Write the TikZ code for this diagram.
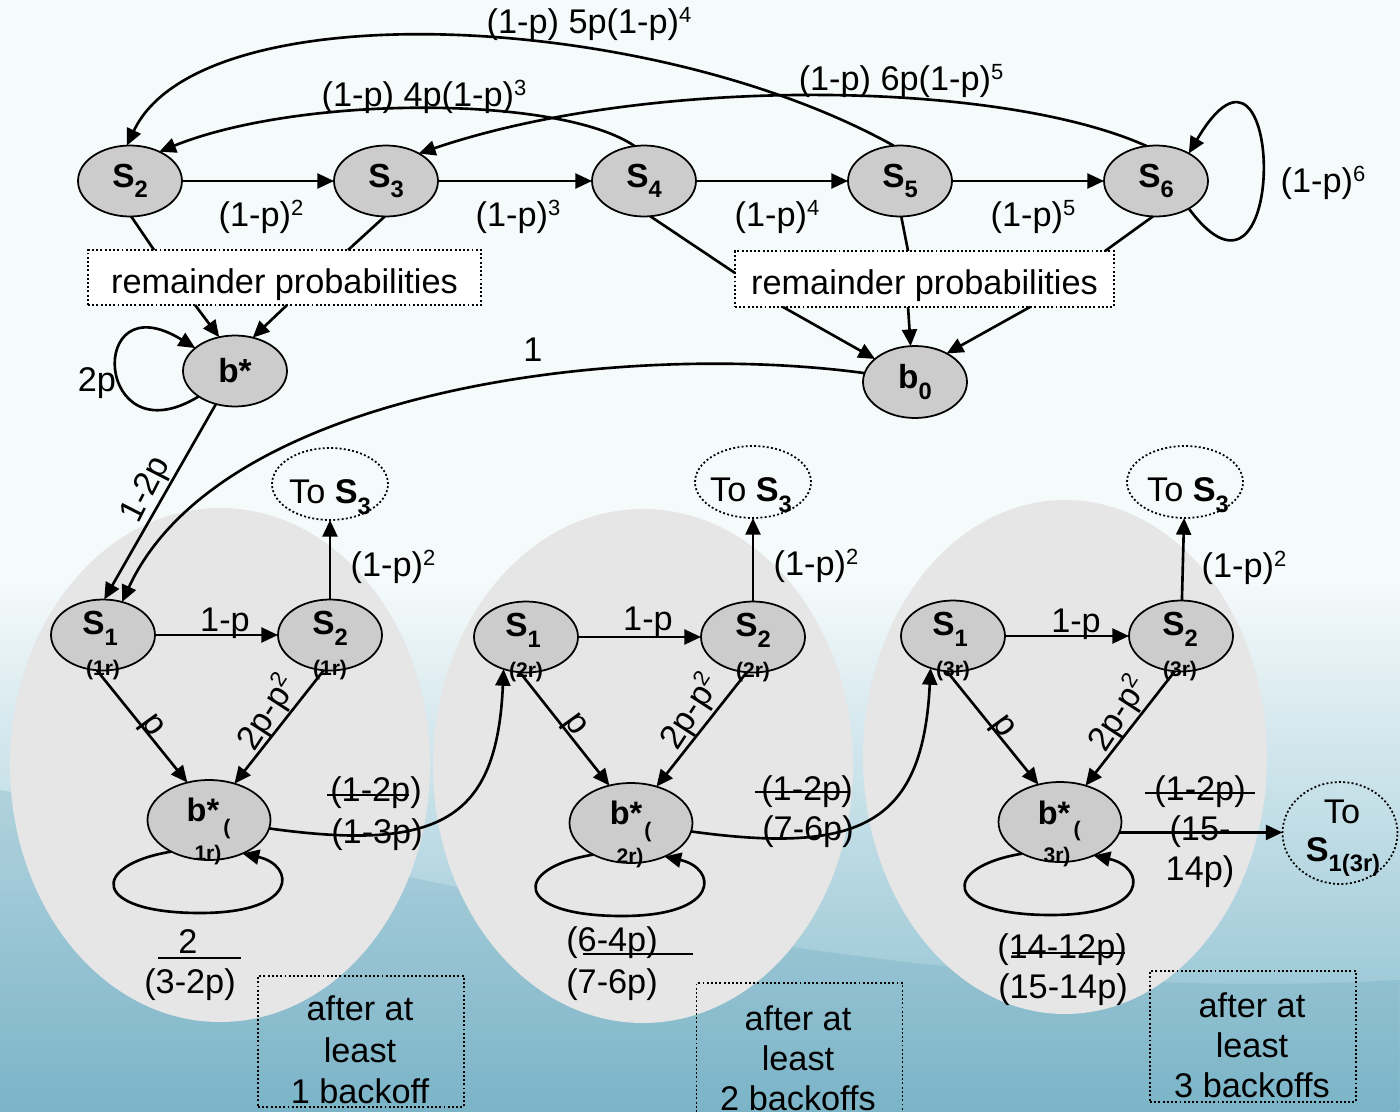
\documentclass[tikz,border=0pt]{standalone}
\usepackage{fontspec}
\setmainfont{Liberation Sans}
\usetikzlibrary{shapes.geometric,arrows.meta,calc}
\definecolor{ngray}{HTML}{CCCCCC}
\definecolor{egray}{HTML}{E6E6E6}
\definecolor{bgtop}{HTML}{F5FAFB}
\definecolor{bgblue}{HTML}{84BBCD}
\definecolor{bgdeep}{HTML}{5E9EB5}
\newcommand{\Sn}[1]{\textbf{S}\raisebox{-0.32em}{\fontsize{13.5}{14}\selectfont\bfseries #1}}
\newcommand{\spx}[1]{\smash{\raisebox{0.34em}{\fontsize{12.5}{13}\selectfont #1}}}
\begin{document}
\begin{tikzpicture}[x=0.02cm,y=-0.02cm,
  every node/.style={inner sep=0pt,outer sep=0pt},
  lab/.style={font=\fontsize{19.5}{23.4}\selectfont},
  blab/.style={font=\fontsize{18.5}{22}\selectfont\bfseries},
  sml/.style={font=\fontsize{12}{14}\selectfont\bfseries},
  st/.style={ellipse,draw,line width=1pt,fill=ngray,minimum width=2.08cm,minimum height=1.42cm,font=\fontsize{19}{22}\selectfont},
  bst/.style={st,minimum width=2.46cm,minimum height=1.6cm},
  tos/.style={ellipse,draw,line width=1pt,dash pattern=on 1.1pt off 1.3pt,minimum width=2.32cm,minimum height=1.44cm},
  rem/.style={rectangle,draw,line width=1pt,dash pattern=on 1.1pt off 1.3pt,fill=white,font=\fontsize{19.5}{23.4}\selectfont,text height=22pt,text depth=4pt},
  dbox/.style={rectangle,draw,line width=1pt,dash pattern=on 1.1pt off 1.3pt,minimum width=4.12cm},
  con/.style={line width=1.5pt},
  arr/.style={line width=1.5pt,-{Triangle[length=9.5pt,width=8.5pt]}},
  bar/.style={line width=1.1pt}]
\useasboundingbox (0,0) rectangle (1400,1112);
% background
\begin{scope}[x=1cm,y=1cm]
\fill[bgtop] (0,0) rectangle (28,-22.24);
\shade[top color=bgtop,bottom color=bgblue] (0,-11.6) rectangle (28,-22.24);
\fill[bgdeep,opacity=0.22] (0,-15.8) .. controls (8,-17.4) and (18,-20.2) .. (28,-19.6) -- (28,-22.24) -- (0,-22.24) -- cycle;
\end{scope}
\fill[egray] (220,765) ellipse [x radius=210,y radius=257];
\fill[egray] (643,766) ellipse [x radius=210,y radius=257];
\fill[egray] (1065,757) ellipse [x radius=202,y radius=257];
% top row
\node[st] (S2) at (130,181) {\Sn{2}};
\node[st] (S3) at (386,181) {\Sn{3}};
\node[st] (S4) at (644,181) {\Sn{4}};
\node[st] (S5) at (900,181) {\Sn{5}};
\node[st] (S6) at (1156,181) {\Sn{6}};
\node[rem,minimum width=7.86cm,minimum height=1.1cm] (rem1) at (284.5,277.5) {remainder probabilities};
\node[rem,minimum width=7.58cm,minimum height=1.12cm] (rem2) at (924.5,279) {remainder probabilities};
\node[st] (bs) at (235,371) {\textbf{b*}};
\node[st,minimum height=1.44cm] (b0) at (915,382) {\textbf{b}\raisebox{-0.32em}{\fontsize{13.5}{14}\selectfont\bfseries 0}};
% top edges
\draw[arr] (S2) -- (S3);
\draw[arr] (S3) -- (S4);
\draw[arr] (S4) -- (S5);
\draw[arr] (S5) -- (S6);
\draw[arr] (S4.105) .. controls (560,95) and (300,95) .. (S2.45);
\draw[arr] (S5.100) .. controls (650,10) and (200,-10) .. (S2.95);
\draw[arr] (S6.105) .. controls (1000,80) and (650,75) .. (S3.40);
\draw[arr] (S6.-40) .. controls (1290,345) and (1285,-10) .. (S6.40);
\draw[con] (S2.-88) -- ($(rem1.north west)+(66,0)$);
\draw[con] (S3.-92) -- ($(rem1.north west)+(260,0)$);
\draw[arr] ($(rem1.south west)+(107,0)$) -- (bs.115);
\draw[arr] ($(rem1.south west)+(199,0)$) -- (bs.62);
\draw[arr] (bs.215) .. controls (95,460) and (85,280) .. (bs.150);
\draw[con] (S4.-80) -- ($(rem2.north west)+(0,22)$);
\draw[con] (S5.-88) -- ($(rem2.north west)+(173,0)$);
\draw[con] (S6.-95) -- ($(rem2.north west)+(370,0)$);
\draw[arr] ($(rem2.south west)+(48,0)$) -- (b0.150);
\draw[arr] ($(rem2.south west)+(173,0)$) -- (b0.97);
\draw[arr] ($(rem2.south west)+(295,0)$) -- (b0.42);
% top labels
\node[lab] (l12) at (261,218) {(1-p)\spx{2}};
\node[lab] (l13) at (518,218) {(1-p)\spx{3}};
\node[lab] (l14) at (777,218) {(1-p)\spx{4}};
\node[lab] (l15) at (1033,218) {(1-p)\spx{5}};
\node[lab] (l16) at (1323,184) {(1-p)\spx{6}};
\node[lab] (lr4) at (424,98) {(1-p) 4p(1-p)\spx{3}};
\node[lab] (lr5) at (589,25) {(1-p) 5p(1-p)\spx{4}};
\node[lab] (lr6) at (901,82) {(1-p) 6p(1-p)\spx{5}};
\node[lab] (l2p) at (97,383) {2p};
\node[lab] (lone) at (533,350) {1};
% lower groups: nodes
\node[st] (S1a) at (103,635) {};
\node[st] (S2a) at (330,635) {};
\node[bst] (Ba) at (209,820) {};
\node[tos] (Ta) at (330,484) {};
\node[st] (S1b) at (526,637) {};
\node[st] (S2b) at (753,637) {};
\node[bst] (Bb) at (631,823) {};
\node[tos] (Tb) at (753,482) {};
\node[st] (S1c) at (953,636) {};
\node[st] (S2c) at (1181,636) {};
\node[bst] (Bc) at (1060,822) {};
\node[tos] (Tc) at (1185,482) {};
\node[tos,minimum width=2.3cm,minimum height=2.04cm] (T1c) at (1340,833) {};
% node texts
\foreach \g/\xo/\yo/\r in {a/0/0/1r,b/423/2/2r,c/850/1/3r}{
  \node[font=\fontsize{19}{22}\selectfont] (S1\g t) at ($(100,628)+(\xo,\yo)$) {\Sn{1}};
  \node[sml] (S1\g r) at ($(103,670)+(\xo,\yo)$) {(\r)};
  \node[font=\fontsize{19}{22}\selectfont] (S2\g t) at ($(330,628)+(\xo,\yo)$) {\Sn{2}};
  \node[sml] (S2\g r) at ($(330,670)+(\xo,\yo)$) {(\r)};
}
\node[blab] (Bat) at (203,810) {b*};
\node[sml] (Bap) at (227,829) {(};
\node[sml] (Bar) at (208,855) {1r)};
\node[blab] (Bbt) at (626,813) {b*};
\node[sml] (Bbp) at (648,832) {(};
\node[sml] (Bbr) at (630,858) {2r)};
\node[blab] (Bct) at (1054,813) {b*};
\node[sml] (Bcp) at (1077,831) {(};
\node[sml] (Bcr) at (1057,857) {3r)};
\node[lab] (Tat) at (330,497) {To \Sn{3}};
\node[lab] (Tbt) at (751,495) {To \Sn{3}};
\node[lab] (Tct) at (1188,495) {To \Sn{3}};
\node[lab] (T1ct) at (1342,812) {To};
\node[lab] (T1cs) at (1343,857) {\textbf{S}\raisebox{-0.32em}{\fontsize{13.5}{14}\selectfont\bfseries 1(3r)}};
% top to lower edges
\draw[arr] (b0.170) .. controls (620,340) and (220,390) .. (S1a.60);
\draw[arr] (bs.240) -- (S1a.88);
\node[lab,rotate=63] (l12p) at (147,490) {1-2p};
% group edges
\foreach \g in {a,b,c}{
  \draw[arr] (S1\g) -- (S2\g);
  \draw[arr] (S2\g) -- (T\g);
  \draw[arr] (S1\g.-100) -- (B\g.120);
  \draw[arr] (S2\g.-100) -- (B\g.55);
  \draw[arr] (B\g.-140) .. controls ($(B\g)+(-119,45)$) and ($(B\g)+(-119,93)$) .. ($(B\g)+(-9,93)$)
     .. controls ($(B\g)+(91,93)$) and ($(B\g)+(86,45)$) .. (B\g.-45);
}
\draw[arr] (Ba.-8) .. controls (440,852) and (497,820) .. (S1b.-125);
\draw[arr] (Bb.-8) .. controls (862,855) and (923,823) .. (S1c.-125);
\draw[arr] (Bc.-10) -- (Bc.-10 -| T1c.west);
% group labels
\foreach \g/\xo/\yo in {a/0/0,b/423/-1,c/851/1}{
  \node[lab] (l1p\g) at ($(225,623)+(\xo,\yo)$) {1-p};
  \node[lab] (lsq\g) at ($(393,568)+(\xo,\yo)$) {(1-p)\spx{2}};
  \node[lab,rotate=-54] (lp\g) at ($(151,727)+(\xo,\yo)$) {p};
  \node[lab,rotate=57] (l2pp\g) at ($(269,714)+(\xo,\yo)$) {2p-p\spx{2}};
}
\node[lab] (fa1) at (376,793) {(1-2p)};
\node[lab] (fa2) at (377,835) {(1-3p)};
\draw[bar] (327,795) -- (409,795);
\node[lab] (fb1) at (807,792) {(1-2p)};
\node[lab] (fb2) at (808,832) {(7-6p)};
\draw[bar] (755,792) -- (848,792);
\node[lab] (fc1) at (1200,792) {(1-2p)};
\node[lab] (fc2) at (1200,832) {(15-};
\node[lab] (fc3) at (1200,872) {14p)};
\draw[bar] (1145,793) -- (1255,793);
\node[lab] (ga1) at (188,942) {2};
\node[lab] (ga2) at (190,985) {(3-2p)};
\draw[bar] (158,958) -- (241,958);
\node[lab] (gb1) at (612,943) {(6-4p)};
\node[lab] (gb2) at (612,985) {(7-6p)};
\draw[bar] (583,954) -- (693,954);
\node[lab] (gc1) at (1062,950) {(14-12p)};
\node[lab] (gc2) at (1063,990) {(15-14p)};
\draw[bar] (1012,953) -- (1125,953);
% bottom boxes
\node[dbox,minimum height=2.62cm] (Da) at (361,1041.5) {};
\node[dbox,minimum height=2.8cm] (Db) at (799.5,1053) {};
\node[dbox,minimum height=2.62cm] (Dc) at (1253,1036.5) {};
\node[lab,align=center,font=\fontsize{19.5}{23.6}\selectfont] (Dat) at (360,1050) {after at\\least\\1 backoff};
\node[lab,align=center,font=\fontsize{19.5}{22.7}\selectfont] (Dbt) at (798,1058) {after at\\least\\2 backoffs};
\node[lab,align=center,font=\fontsize{19.5}{22.7}\selectfont] (Dct) at (1252,1045) {after at\\least\\3 backoffs};
\end{tikzpicture}
\end{document}
